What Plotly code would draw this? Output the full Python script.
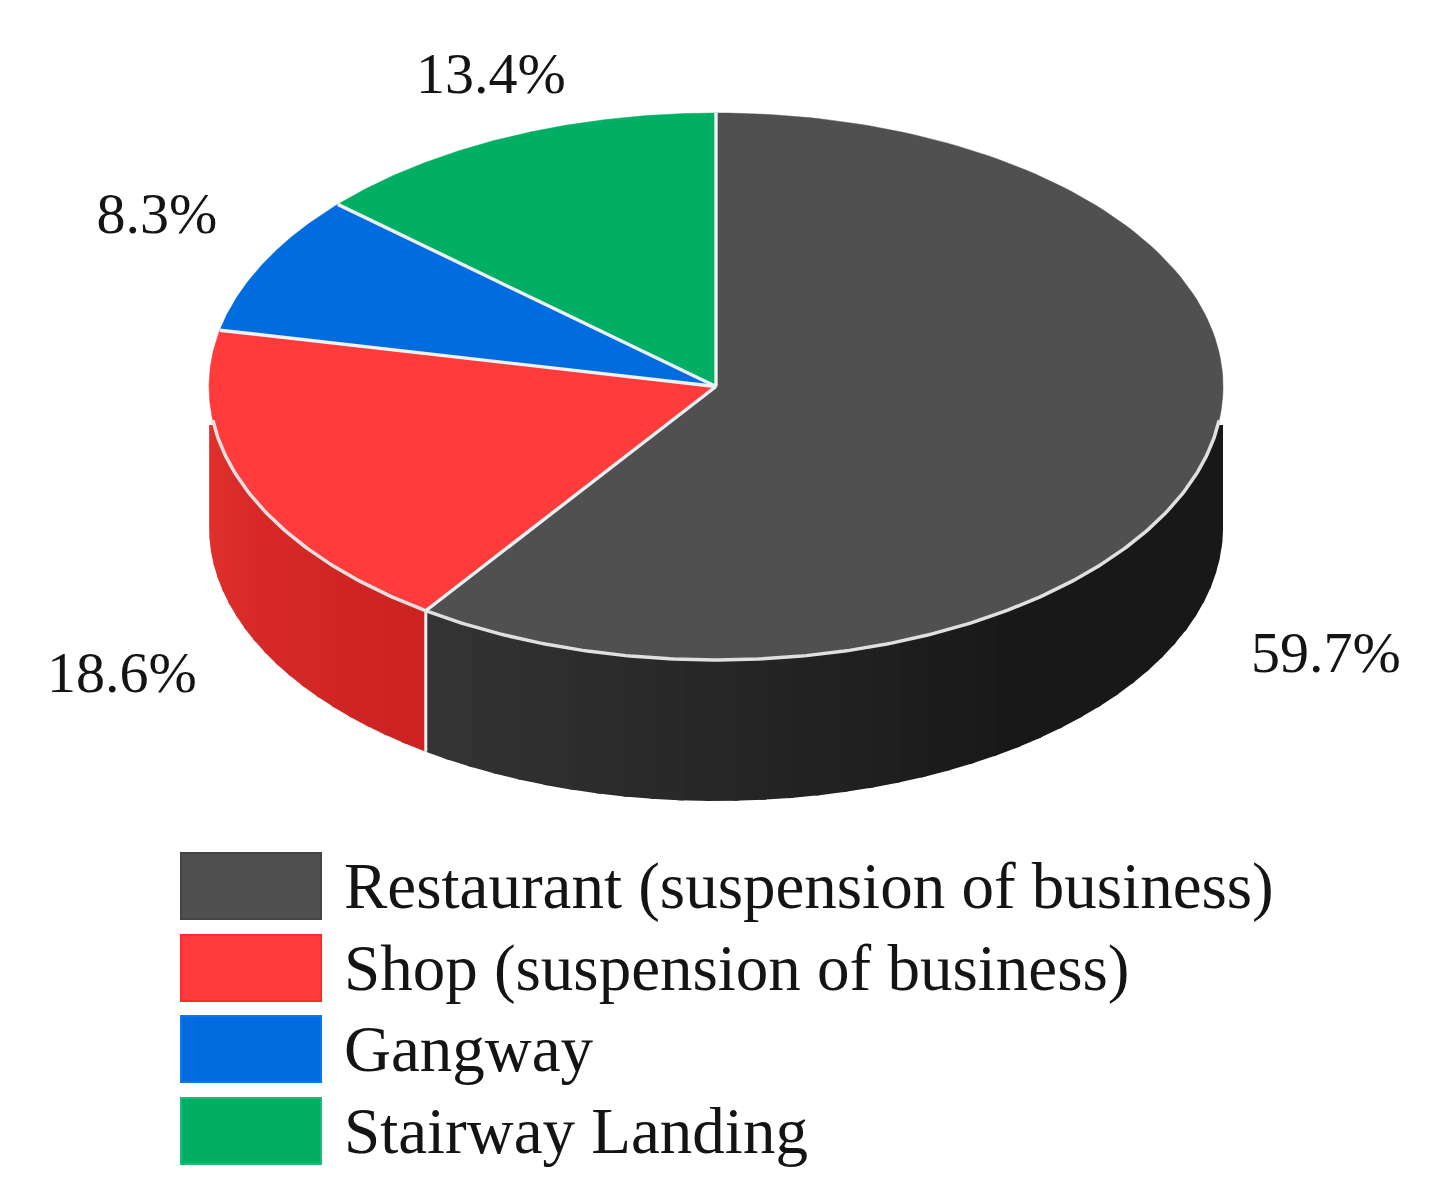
import numpy as np
import plotly.graph_objects as go

categories = ["Restaurant (suspension of business)", "Shop (suspension of business)", "Gangway", "Stairway Landing"]
shares = [59.7, 18.6, 8.3, 13.4]
share_labels = ["59.7%", "18.6%", "8.3%", "13.4%"]
colors = ["#505050", "#FF3B3B", "#006CE0", "#00AE64"]
swatch_edges = ["#444444", "#FF2A2A", "#0A78EE", "#22B878"]

# pie geometry, in page pixels
CX, CY, RX, RY = 716, 386.5, 507, 273.5
DEPTH = 141
WALL_TOP = 425
FONT = "Liberation Serif"
TEXT_COLOR = "#141414"


def rim(theta, drop=0.0):
    # theta in degrees, clockwise from 12 o'clock
    t = np.radians(theta)
    return CX + RX * np.sin(t), CY - RY * np.cos(t) + drop


def mix(a, b, k):
    k = min(max(k, 0), 1)
    return "rgb(%d,%d,%d)" % tuple(round(a[i] + (b[i] - a[i]) * k) for i in range(3))


def poly(xs, ys, color, line=0.0):
    return go.Scatter(x=xs, y=ys, mode="lines", fill="toself", fillcolor=color,
                      line=dict(color=color, width=line), hoverinfo="skip", showlegend=False)


fig = go.Figure()

edges = np.cumsum([0] + shares) / sum(shares) * 360


def wall_band(t0, t1, color):
    ts = np.linspace(t0, t1, 6)
    xt, yt = rim(ts)
    xb, yb = rim(ts[::-1], DEPTH)
    yt = np.maximum(yt, WALL_TOP)
    fig.add_trace(poly(np.r_[xt, xb], np.r_[yt, yb], color))


# side wall, drawn as narrow bands along the front half of the rim;
# dark slice is painted right to left so each band overlaps the next one
dark = np.linspace(90, edges[1], 41)
for t0, t1 in zip(dark[:-1], dark[1:]):
    k = (edges[1] - t1) / (edges[1] - 90)
    wall_band(t0, t1 if t1 == edges[1] else t1 + 0.6, mix((52, 52, 52), (24, 24, 24), k * 1.8))
red = np.linspace(edges[1], 270, 21)
for t0, t1 in zip(red[:-1], red[1:]):
    k = (t0 - edges[1]) / (270 - edges[1])
    wall_band(t0, t1 if t1 == 270 else t1 + 0.6, mix((204, 34, 34), (226, 50, 46), k))

# split between the two visible wall colours
xs, ys = rim(edges[1])
fig.add_trace(go.Scatter(x=[xs, xs], y=[ys, ys + DEPTH], mode="lines",
                         line=dict(color="#e8f0f0", width=3), hoverinfo="skip", showlegend=False))

# top face
for i in range(len(shares)):
    ts = np.linspace(edges[i], edges[i + 1], 160)
    xr, yr = rim(ts)
    fig.add_trace(poly(np.r_[CX, xr, CX], np.r_[CY, yr, CY], colors[i], line=0.5))

# light rim on the front edge and spokes between the slices
lo = np.degrees(np.arccos((CY - WALL_TOP) / RY))
ts = np.linspace(lo - 1, 360 - lo + 1, 300)
xr, yr = rim(ts)
fig.add_trace(go.Scatter(x=xr, y=yr, mode="lines", line=dict(color="#e0e0e0", width=3.5),
                         hoverinfo="skip", showlegend=False))
for e in edges[:-1]:
    xr, yr = rim(e)
    fig.add_trace(go.Scatter(x=[CX, xr], y=[CY, yr], mode="lines", line=dict(color="#eef2f2", width=3.4),
                             hoverinfo="skip", showlegend=False))

# slice labels
label_x = [1326, 122, 157, 491]
label_y = [657, 677, 218, 78]
fig.add_trace(go.Scatter(x=label_x, y=label_y, mode="text", text=share_labels, textposition="middle center",
                         textfont=dict(family=FONT, size=58, color=TEXT_COLOR),
                         hoverinfo="skip", showlegend=False))

# legend
swatch_top = [853, 935, 1016, 1098]
shapes = []
annotations = []
for i, name in enumerate(categories):
    shapes.append(dict(type="rect", xref="x", yref="y", x0=181, x1=321, y0=swatch_top[i], y1=swatch_top[i] + 66,
                       fillcolor=colors[i], line=dict(width=2, color=swatch_edges[i]), layer="above"))
    annotations.append(dict(x=342, y=swatch_top[i] + 33, xref="x", yref="y", text=name, showarrow=False,
                            xanchor="left", yanchor="middle",
                            font=dict(family=FONT, size=65, color=TEXT_COLOR)))

fig.update_layout(
    width=1440, height=1203,
    margin=dict(l=0, r=0, t=0, b=0),
    paper_bgcolor="white", plot_bgcolor="white",
    xaxis=dict(range=[0, 1440], visible=False, fixedrange=True),
    yaxis=dict(range=[1203, 0], visible=False, fixedrange=True),
    shapes=shapes, annotations=annotations, showlegend=False,
)

fig.write_html("out.html", config={"displayModeBar": False},
               post_script="document.body.style.margin='0';")
